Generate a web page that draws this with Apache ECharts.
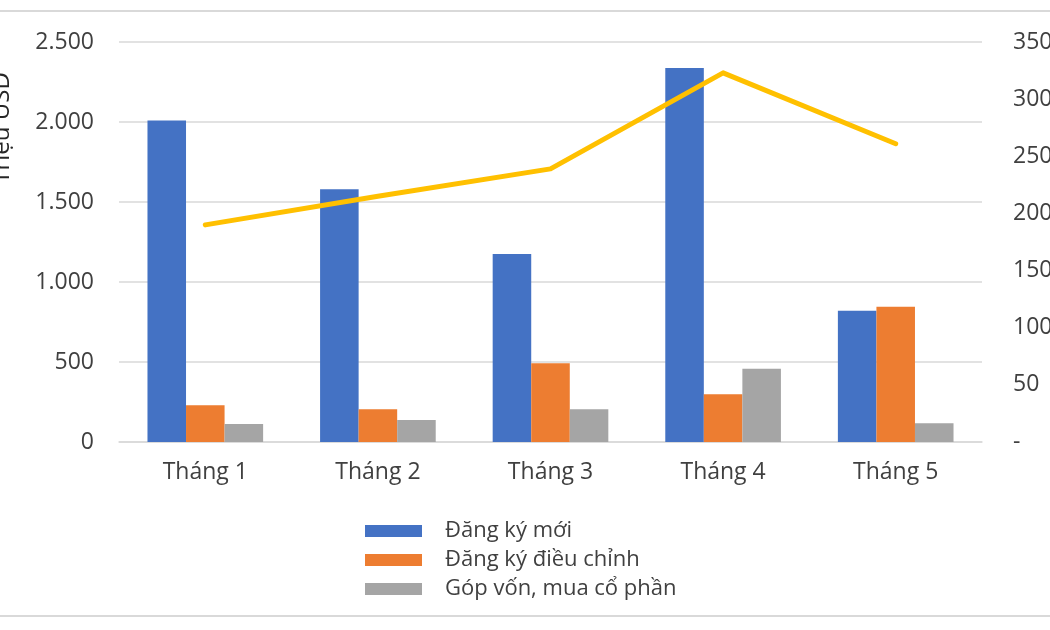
<!DOCTYPE html>
<html>
<head>
<meta charset="utf-8">
<script src="https://cdn.jsdelivr.net/npm/echarts@6/dist/echarts.min.js"></script>
<style>
  html, body { margin: 0; padding: 0; background: #fff; }
  #chart { width: 1050px; height: 630px; }
</style>
</head>
<body>
<div id="chart"></div>
<script>
const categories = ['Tháng 1', 'Tháng 2', 'Tháng 3', 'Tháng 4', 'Tháng 5'];
const dangKyMoi = [2010, 1580, 1175, 2337, 821];
const dangKyDieuChinh = [229, 204, 492, 298, 846];
const gopVon = [112, 137, 204, 458, 117];
const lineValues = [190, 215, 239, 323, 261];
const leftTicks = [0, 500, 1000, 1500, 2000, 2500];
const rightTicks = [0, 50, 100, 150, 200, 250, 300, 350];

const font = '"Open Sans", "Noto Sans", sans-serif';
const textColor = '#404040';
const gridColor = '#d9d9d9';

const chart = echarts.init(document.getElementById('chart'));

const option = {
    animation: false,
    textStyle: { fontFamily: font },
    grid: { left: 119, right: 68, top: 42, bottom: 188, outerBoundsMode: 'none', containLabel: false },
    legend: {
        orient: 'vertical',
        left: 360,
        top: 515,
        itemWidth: 57,
        itemHeight: 12,
        itemGap: 7,
        icon: 'rect',
        data: ['Đăng ký mới', 'Đăng ký điều chỉnh', 'Góp vốn, mua cổ phần'],
        textStyle: { fontFamily: font, fontSize: 22, color: textColor, padding: [0, 0, 0, 18] }
    },
    graphic: [
        { type: 'line', shape: { x1: 0, y1: 11, x2: 1050, y2: 11 }, style: { stroke: gridColor, lineWidth: 2 } },
        { type: 'line', shape: { x1: 0, y1: 616, x2: 1050, y2: 616 }, style: { stroke: gridColor, lineWidth: 2 } },
        {
            type: 'text', x: 2, y: 128, rotation: Math.PI / 2,
            style: { text: 'Triệu USD', fontFamily: font, fontSize: 24, fill: '#262626', align: 'center', verticalAlign: 'middle' }
        }
    ],
    xAxis: {
        type: 'category',
        data: categories,
        axisLine: { lineStyle: { color: gridColor, width: 1.5 } },
        axisTick: { show: false },
        axisLabel: { color: textColor, fontSize: 23, margin: 19, fontFamily: font }
    },
    yAxis: [
        {
            type: 'value',
            min: leftTicks[0],
            max: leftTicks[leftTicks.length - 1],
            interval: 500,
            axisLine: { show: false },
            axisTick: { show: false },
            splitLine: { lineStyle: { color: gridColor, width: 1.5 } },
            axisLabel: {
                color: textColor, fontSize: 23, margin: 25, fontFamily: font,
                formatter: v => String(v).replace(/\B(?=(\d{3})+(?!\d))/g, '.')
            }
        },
        {
            type: 'value',
            position: 'right',
            min: rightTicks[0],
            max: rightTicks[rightTicks.length - 1],
            interval: 50,
            axisLine: { show: false },
            axisTick: { show: false },
            splitLine: { show: false },
            axisLabel: {
                color: textColor, fontSize: 23, margin: 31, fontFamily: font,
                formatter: v => v === 0 ? '-' : String(v)
            }
        }
    ],
    series: [
        {
            name: 'Đăng ký mới', type: 'bar', data: dangKyMoi,
            barGap: 0, barCategoryGap: '33%',
            itemStyle: { color: '#4472C4' }
        },
        {
            name: 'Đăng ký điều chỉnh', type: 'bar', data: dangKyDieuChinh,
            barGap: 0, barCategoryGap: '33%',
            itemStyle: { color: '#ED7D31' }
        },
        {
            name: 'Góp vốn, mua cổ phần', type: 'bar', data: gopVon,
            barGap: 0, barCategoryGap: '33%',
            itemStyle: { color: '#A5A5A5' }
        },
        {
            name: 'Tổng', type: 'line', yAxisIndex: 1, data: lineValues,
            symbol: 'none',
            lineStyle: { color: '#FFC000', width: 5, cap: 'round', join: 'round' },
            itemStyle: { color: '#FFC000' }
        }
    ]
};

chart.setOption(option);
</script>
</body>
</html>
